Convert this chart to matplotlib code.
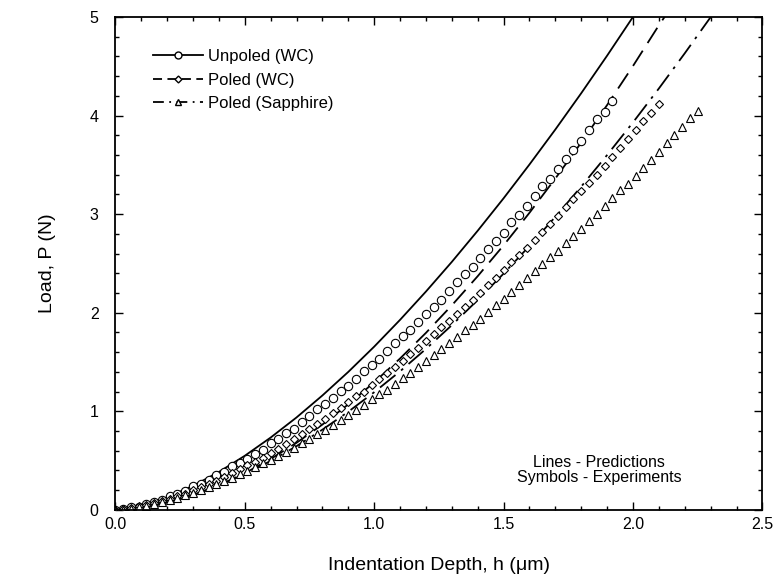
import matplotlib
matplotlib.use("Agg")
import matplotlib.pyplot as plt
from matplotlib.lines import Line2D
from matplotlib.ticker import MultipleLocator

plt.rcParams['font.family'] = ['Liberation Sans', 'DejaVu Sans']

# prediction curves (lines)
h_pred = [0.0, 0.1, 0.2, 0.3, 0.4, 0.5, 0.6, 0.7, 0.8, 0.9, 1.0, 1.1, 1.2, 1.3, 1.4,
          1.5, 1.6, 1.7, 1.8, 1.9, 2.0, 2.1, 2.2, 2.3, 2.32]
p_unpoled_wc = [0.0, 0.042, 0.127, 0.243, 0.384, 0.548, 0.733, 0.937, 1.160, 1.399, 1.655,
                1.927, 2.214, 2.515, 2.831, 3.160, 3.503, 3.858, 4.226, 4.607, 5.0]
p_poled_wc = [0.0, 0.020, 0.071, 0.148, 0.249, 0.371, 0.516, 0.680, 0.865, 1.070, 1.293,
              1.535, 1.795, 2.074, 2.370, 2.683, 3.013, 3.361, 3.725, 4.106, 4.502, 4.915, 5.30]
p_poled_sap = [0.0, 0.023, 0.075, 0.150, 0.247, 0.362, 0.496, 0.646, 0.813, 0.995, 1.193,
               1.405, 1.632, 1.873, 2.128, 2.396, 2.677, 2.972, 3.279, 3.599, 3.930, 4.274,
               4.631, 4.998, 5.074]

# experiments (symbols)
h_unp = [0.0, 0.03, 0.06, 0.09, 0.12, 0.15, 0.18, 0.21, 0.24, 0.27, 0.30, 0.33, 0.36, 0.39,
         0.42, 0.45, 0.48, 0.51, 0.54, 0.57, 0.60, 0.63, 0.66, 0.69, 0.72, 0.75, 0.78, 0.81,
         0.84, 0.87, 0.90, 0.93, 0.96, 0.99, 1.02, 1.05, 1.08, 1.11, 1.14, 1.17, 1.20, 1.23,
         1.26, 1.29, 1.32, 1.35, 1.38, 1.41, 1.44, 1.47, 1.50, 1.53, 1.56, 1.59, 1.62, 1.65,
         1.68, 1.71, 1.74, 1.77, 1.80, 1.83, 1.86, 1.89, 1.92]
p_unp = [0.0, 0.01, 0.03, 0.03, 0.06, 0.08, 0.10, 0.14, 0.16, 0.19, 0.24, 0.26, 0.30, 0.35,
         0.38, 0.44, 0.47, 0.52, 0.57, 0.61, 0.68, 0.72, 0.78, 0.82, 0.89, 0.95, 1.02, 1.07,
         1.13, 1.21, 1.26, 1.33, 1.41, 1.47, 1.53, 1.61, 1.69, 1.76, 1.82, 1.91, 1.99, 2.06,
         2.13, 2.22, 2.31, 2.39, 2.46, 2.55, 2.65, 2.73, 2.81, 2.92, 2.99, 3.08, 3.18, 3.28,
         3.36, 3.46, 3.56, 3.65, 3.74, 3.85, 3.96, 4.04, 4.15]

h_pwc = h_unp + [1.95, 1.98, 2.01, 2.04, 2.07, 2.10]
p_pwc = [0.0, 0.01, 0.02, 0.04, 0.05, 0.07, 0.09, 0.11, 0.14, 0.16, 0.20, 0.23, 0.26, 0.29,
         0.33, 0.37, 0.41, 0.45, 0.49, 0.53, 0.58, 0.62, 0.67, 0.72, 0.77, 0.82, 0.87, 0.92,
         0.98, 1.03, 1.09, 1.15, 1.20, 1.27, 1.33, 1.39, 1.45, 1.51, 1.58, 1.64, 1.71, 1.78,
         1.85, 1.92, 1.99, 2.06, 2.13, 2.20, 2.28, 2.35, 2.43, 2.51, 2.58, 2.66, 2.74, 2.82,
         2.90, 2.98, 3.07, 3.15, 3.23, 3.32, 3.40, 3.49, 3.58, 3.67, 3.76, 3.85, 3.94, 4.03, 4.12]

h_psap = h_pwc + [2.13, 2.16, 2.19, 2.22, 2.25]
p_psap = [0.0, 0.00, 0.01, 0.03, 0.04, 0.06, 0.08, 0.10, 0.12, 0.15, 0.17, 0.20, 0.23, 0.26,
          0.29, 0.32, 0.36, 0.39, 0.43, 0.47, 0.51, 0.55, 0.59, 0.63, 0.68, 0.72, 0.77, 0.81,
          0.86, 0.91, 0.96, 1.01, 1.06, 1.12, 1.17, 1.22, 1.28, 1.34, 1.39, 1.45, 1.51, 1.57,
          1.63, 1.69, 1.75, 1.82, 1.88, 1.94, 2.01, 2.08, 2.14, 2.21, 2.28, 2.35, 2.42, 2.49,
          2.56, 2.63, 2.71, 2.78, 2.85, 2.93, 3.00, 3.08, 3.16, 3.24, 3.31, 3.39, 3.47, 3.55,
          3.63, 3.72, 3.80, 3.88, 3.97, 4.05]

fig = plt.figure(figsize=(7.74, 5.84), dpi=100)
ax = fig.add_axes([0.149, 0.127, 0.836, 0.844])

ax.plot(h_pred[:len(p_unpoled_wc)], p_unpoled_wc, color='black', lw=1.3, ls='-')
ax.plot(h_pred[:len(p_poled_wc)], p_poled_wc, color='black', lw=1.3, ls=(0, (10, 5)))
ax.plot(h_pred[:len(p_poled_sap)], p_poled_sap, color='black', lw=1.3, ls=(0, (11, 4, 1.5, 4)))

ax.plot(h_unp, p_unp, ls='none', marker='o', ms=6, mfc='white', mec='black', mew=0.8)
ax.plot(h_pwc, p_pwc, ls='none', marker='D', ms=4.5, mfc='white', mec='black', mew=0.8)
ax.plot(h_psap, p_psap, ls='none', marker='^', ms=6, mfc='white', mec='black', mew=0.8)

ax.set_xlim(0, 2.5)
ax.set_ylim(0, 5)
ax.xaxis.set_major_locator(MultipleLocator(0.5))
ax.xaxis.set_minor_locator(MultipleLocator(0.1))
ax.yaxis.set_major_locator(MultipleLocator(1))
ax.yaxis.set_minor_locator(MultipleLocator(0.2))
ax.xaxis.set_major_formatter(plt.FormatStrFormatter('%.1f'))
ax.tick_params(which='both', direction='in', top=True, right=True, labelsize=11.5)
ax.tick_params(axis='x', pad=5)
ax.tick_params(axis='y', pad=12)
ax.tick_params(which='major', length=6, width=1)
ax.tick_params(which='minor', length=3, width=1)
for s in ax.spines.values():
    s.set_linewidth(1.3)

ax.set_xlabel('Indentation Depth, h (μm)', fontsize=14, labelpad=18)
ax.set_ylabel('Load, P (N)', fontsize=14, labelpad=24)

handles = [
    Line2D([], [], color='black', lw=1.3, ls='-', marker='o', ms=5, mfc='white', mec='black'),
    Line2D([], [], color='black', lw=1.3, ls=(0, (5, 3)), marker='D', ms=3.5, mfc='white', mec='black'),
    Line2D([], [], color='black', lw=1.3, ls=(0, (6, 3, 1, 3)), marker='^', ms=4.5, mfc='white', mec='black'),
]
ax.legend(handles, ['Unpoled (WC)', 'Poled (WC)', 'Poled (Sapphire)'], loc='upper left',
          bbox_to_anchor=(0.035, 0.965), frameon=False, fontsize=12, numpoints=1,
          handlelength=3.0, handletextpad=0.3, labelspacing=0.5)

ax.text(1.87, 0.40, 'Lines - Predictions\nSymbols - Experiments', ha='center', va='center',
        fontsize=11.5, linespacing=1.0)

fig.savefig('out.png', dpi=100)
